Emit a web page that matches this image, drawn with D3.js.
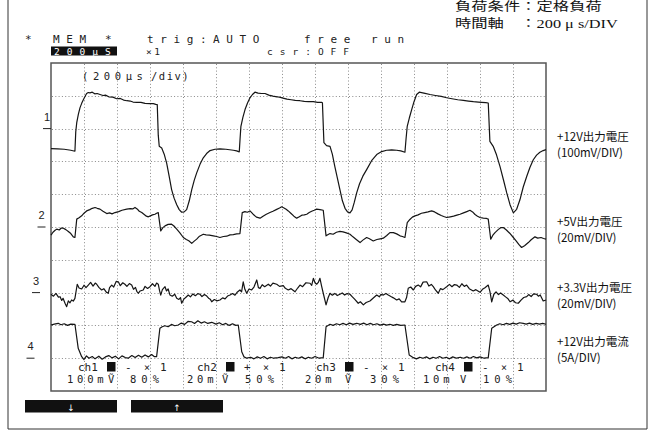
<!DOCTYPE html>
<html>
<head>
<meta charset="utf-8">
<script src="https://cdn.jsdelivr.net/npm/d3@7"></script>
<style>
  body { margin: 0; background: #fff; }
  .lcd { font-family: "DejaVu Sans Mono", monospace; fill: #222; }
  .lab { font-family: "Liberation Sans Narrow", "Noto Sans CJK JP", sans-serif; font-size: 11.5px; fill: #111; }
  .hdr { font-family: "Liberation Serif", "Noto Sans CJK JP", serif; font-size: 12px; fill: #111; }
</style>
</head>
<body>
<script>
// time in microseconds, values in mV (ch4 in A), measured from each channel's ground marker
const ch1 = [
  [0,-61],[40,-62],[80,-63],[120,-66],[145,-69],
  [150,-10],[156,18],[166,44],[176,64],[186,77],[196,88],[206,98],[216,107],[226,110],[236,109],[250,111],[265,106],[280,107],[297,104],[315,101],[330,102],[350,97],[375,96],[398,91],[420,92],[440,87],[460,85],[480,84],[497,81],[520,80],[545,80],[570,77],[600,76],[620,76],[635,74],[644,73],
  [650,-20],[656,-54],[671,-59],[686,-78],[701,-105],[716,-145],[731,-186],[746,-212],[762,-232],[777,-247],[792,-255],[807,-254],[822,-247],[838,-220],[853,-186],[868,-158],[883,-135],[903,-109],[923,-89],[943,-76],[964,-67],[994,-63],[1024,-62],[1060,-63],[1105,-66],[1125,-68],[1141,-71],
  [1146,-30],[1151,7],[1163,34],[1176,58],[1191,78],[1206,94],[1221,104],[1236,111],[1255,108],[1275,107],[1297,107],[1320,102],[1345,99],[1370,97],[1390,95],[1406,93],[1430,90],[1455,88],[1480,86],[1509,85],[1535,83],[1560,82],[1590,82],[1615,80],[1640,80],[1645,79],
  [1654,-43],[1670,-52],[1691,-54],[1705,-78],[1720,-115],[1736,-152],[1751,-186],[1766,-220],[1782,-243],[1797,-254],[1812,-257],[1825,-248],[1838,-225],[1853,-195],[1870,-168],[1890,-145],[1913,-125],[1943,-98],[1974,-79],[2004,-70],[2034,-66],[2065,-65],[2095,-66],[2120,-68],[2145,-72],
  [2152,-30],[2159,7],[2172,33],[2186,58],[2200,82],[2216,104],[2232,111],[2260,108],[2297,104],[2330,101],[2365,98],[2398,94],[2430,91],[2465,88],[2499,86],[2530,84],[2560,82],[2590,81],[2610,80],[2635,79],[2650,78],
  [2660,-39],[2680,-54],[2700,-80],[2721,-115],[2742,-156],[2762,-196],[2782,-232],[2802,-257],[2822,-246],[2842,-217],[2862,-178],[2883,-146],[2903,-118],[2923,-95],[2943,-81],[2963,-72],[2983,-67],[3000,-64]
];

const ch2 = [
  [0,-5.0],[12,-3.2],[25,-2.0],[35,-1.3],[50,-1.8],[62,-0.6],[75,-0.7],[90,-1.6],[105,-2.7],[120,-4.0],[135,-6.0],[145,-6.4],
  [156,4.8],[170,5.6],[186,6.8],[200,8.4],[216,9.8],[235,10.6],[250,11.4],[267,11.9],[280,11.4],[297,10.9],[315,9.6],[338,8.2],[355,8.6],[370,8.0],[388,8.8],[410,9.4],[430,10.2],[459,10.9],[480,11.2],[495,11.0],[509,11.9],[522,11.0],[535,9.6],[550,8.8],[565,7.6],[578,6.6],[590,6.2],[602,6.8],[615,7.4],[630,7.8],[640,8.4],[650,8.8],
  [665,-2.4],[678,-0.4],[691,0.7],[710,1.6],[731,1.7],[745,0.6],[762,-1.3],[780,-3.4],[802,-6.4],[820,-7.6],[835,-8.4],[853,-10.0],[868,-8.6],[883,-7.4],[900,-5.6],[923,-4.4],[940,-4.8],[960,-5.0],[984,-5.4],[1004,-5.8],[1024,-6.4],[1045,-5.8],[1065,-5.6],[1085,-4.8],[1105,-4.6],[1125,-4.2],[1145,-4.0],
  [1159,8.8],[1175,9.4],[1190,9.0],[1206,9.8],[1225,7.8],[1245,6.0],[1267,5.4],[1285,6.6],[1305,7.8],[1327,8.8],[1345,9.6],[1365,10.6],[1385,11.6],[1398,12.3],[1412,11.6],[1425,10.8],[1438,9.8],[1455,8.2],[1472,6.6],[1489,5.4],[1505,6.2],[1520,7.2],[1535,7.4],[1550,7.8],[1565,8.8],[1580,9.6],[1595,10.2],[1610,10.9],[1630,10.6],[1650,10.2],
  [1667,-5.4],[1680,-4.6],[1691,-4.0],[1710,-4.4],[1730,-3.2],[1751,-2.7],[1770,-3.0],[1790,-3.6],[1812,-4.4],[1830,-6.0],[1850,-7.6],[1873,-9.5],[1890,-8.0],[1913,-6.4],[1930,-7.2],[1953,-8.5],[1975,-7.6],[1995,-7.2],[2014,-6.8],[2035,-5.2],[2054,-3.4],[2075,-3.4],[2095,-4.2],[2115,-5.4],[2130,-5.8],[2145,-6.4],
  [2159,2.7],[2175,4.6],[2190,6.0],[2206,6.8],[2225,7.4],[2245,8.4],[2265,8.8],[2285,9.2],[2307,9.8],[2325,9.2],[2345,8.0],[2365,7.0],[2380,6.4],[2398,5.8],[2420,6.2],[2440,6.6],[2460,7.2],[2479,7.8],[2500,8.6],[2520,9.4],[2539,10.2],[2555,9.2],[2570,7.6],[2585,6.6],[2600,5.8],[2620,5.4],[2640,5.2],[2650,4.8],
  [2665,-7.4],[2678,-5.0],[2691,-3.4],[2710,-1.6],[2725,-0.4],[2741,-0.3],[2760,-1.8],[2780,-3.8],[2802,-6.4],[2820,-8.6],[2835,-10.6],[2852,-12.5],[2870,-11.4],[2893,-9.5],[2910,-7.8],[2933,-6.0],[2950,-6.8],[2970,-6.4],[2985,-7.0],[3000,-7.4]
];

const ch3 = [
  [0,-1.0],[15,-2.2],[30,-0.5],[45,-2.8],[55,-2.5],[65,-4.8],[73,-3.5],[85,-6.5],[95,-8.6],[105,-5.0],[115,-6.2],[125,-4.5],[135,-5.2],[145,-3.5],
  [159,5.1],[170,2.8],[186,2.2],[200,4.5],[212,3.0],[226,4.6],[240,6.2],[255,4.0],[268,5.8],[277,5.1],[290,3.2],[307,1.6],[320,2.4],[335,0.3],[347,-0.4],[355,3.0],[368,4.6],[380,3.4],[395,6.8],[408,6.6],[420,4.2],[435,6.0],[448,5.1],[460,3.8],[475,5.5],[489,4.6],[500,2.0],[512,3.2],[520,0.8],[529,-0.4],[540,1.0],[559,1.6],[570,3.8],[585,2.5],[600,3.6],[615,5.4],[630,3.8],[640,5.8],[650,5.1],
  [658,1.2],[665,-1.5],[675,1.8],[691,3.6],[700,1.0],[710,2.2],[721,-1.5],[735,-2.2],[750,-1.0],[762,-3.5],[775,-4.2],[785,-3.0],[792,-6.5],[805,-4.0],[818,-2.8],[832,-1.5],[845,-2.6],[860,-0.8],[875,-1.9],[890,-0.6],[903,-1.0],[915,-2.4],[930,-1.2],[944,-2.1],[955,-3.4],[965,-4.0],[974,-5.6],[990,-4.2],[1005,-5.0],[1024,-4.5],[1040,-3.2],[1055,-3.8],[1070,-2.1],[1085,-1.5],[1100,-0.6],[1115,-1.6],[1130,0.4],[1145,1.6],
  [1155,0.5],[1165,6.6],[1175,2.0],[1186,-0.4],[1200,2.2],[1216,1.6],[1230,3.4],[1247,7.7],[1257,3.0],[1267,2.6],[1280,4.8],[1295,3.6],[1317,5.1],[1330,4.0],[1345,5.8],[1368,5.1],[1385,3.8],[1408,4.2],[1420,2.6],[1438,1.6],[1455,2.4],[1479,0.5],[1495,2.8],[1509,4.6],[1525,3.6],[1545,6.0],[1570,5.7],[1580,4.4],[1590,8.7],[1600,6.0],[1610,5.1],[1620,6.2],[1630,8.7],[1640,4.0],[1650,-0.4],
  [1667,-7.5],[1680,-3.0],[1691,-0.4],[1705,-1.6],[1720,-0.5],[1735,-1.8],[1751,-1.0],[1765,-0.2],[1780,-1.5],[1795,-0.6],[1812,-1.0],[1825,-2.4],[1840,-4.0],[1862,-6.5],[1875,-5.6],[1893,-7.5],[1910,-6.0],[1933,-5.1],[1950,-3.6],[1974,-1.5],[1990,-2.6],[2000,-1.0],[2014,-1.5],[2030,-0.5],[2044,-1.5],[2060,-2.4],[2075,-3.2],[2095,-4.5],[2110,-3.8],[2125,-5.6],[2145,-5.6],
  [2155,-3.0],[2165,2.6],[2180,3.4],[2196,1.6],[2210,3.8],[2226,4.6],[2240,3.5],[2255,6.4],[2277,6.6],[2290,4.0],[2305,5.0],[2317,3.6],[2330,1.6],[2347,-0.4],[2360,2.4],[2375,1.8],[2398,3.6],[2415,5.0],[2430,3.6],[2445,4.9],[2459,4.6],[2475,3.2],[2490,5.4],[2505,3.8],[2519,4.6],[2535,2.4],[2559,1.0],[2575,1.8],[2600,0.2],[2615,2.0],[2630,3.0],[2650,4.6],
  [2660,0.8],[2671,-5.6],[2684,-1.0],[2697,0.5],[2712,-1.2],[2725,-0.2],[2741,-1.5],[2755,-2.6],[2770,-3.8],[2782,-5.6],[2800,-4.6],[2815,-6.2],[2832,-6.5],[2850,-4.4],[2865,-3.0],[2883,-2.5],[2895,-1.2],[2910,-2.4],[2925,-0.8],[2943,-1.0],[2955,-2.2],[2965,-1.4],[2983,-5.1],[3000,-4.5]
];

const ch4 = [
  [0,5.06],[20,5.2],[44,5.32],[60,5.1],[80,5.25],[100,5.0],[120,5.2],[145,5.17],
  [165,1.51],[186,0.23],[200,-0.2],[215,0.35],[230,0.0],[250,0.25],[267,-0.1],[290,0.3],[310,-0.15],[330,0.2],[350,0.4],[370,0.05],[390,0.3],[410,-0.1],[430,0.35],[450,0.1],[468,0.0],[490,0.4],[510,0.1],[530,0.45],[550,0.15],[570,0.5],[590,0.2],[610,0.55],[625,0.25],[640,0.23],
  [660,4.56],[674,4.8],[690,4.95],[710,4.8],[730,5.15],[750,4.95],[771,5.06],[790,5.35],[810,5.15],[830,5.6],[852,5.56],[870,5.3],[890,5.7],[910,5.35],[930,5.55],[950,5.3],[974,5.47],[1000,5.2],[1020,5.4],[1040,5.1],[1060,5.3],[1080,5.0],[1100,5.25],[1120,5.0],[1135,5.06],
  [1156,0.99],[1170,0.2],[1186,0.0],[1210,0.15],[1230,-0.1],[1250,0.2],[1270,0.0],[1290,0.25],[1310,-0.1],[1330,0.15],[1350,0.0],[1377,0.1],[1400,0.2],[1420,0.0],[1440,0.25],[1460,-0.1],[1480,0.15],[1500,0.0],[1520,0.2],[1540,-0.1],[1560,0.15],[1580,0.0],[1600,0.25],[1625,0.0],[1650,0.08],
  [1667,4.8],[1691,5.17],[1710,5.0],[1730,5.25],[1750,5.1],[1770,5.3],[1790,5.1],[1810,5.35],[1830,5.15],[1853,5.32],[1875,5.15],[1895,5.35],[1915,5.1],[1935,5.3],[1955,5.1],[1975,5.25],[1995,5.05],[2015,5.2],[2035,5.05],[2054,5.17],[2075,5.0],[2095,5.15],[2120,5.0],[2145,5.06],
  [2171,0.49],[2196,0.08],[2215,-0.1],[2235,0.15],[2255,0.0],[2275,0.2],[2295,-0.1],[2315,0.15],[2335,0.0],[2355,0.25],[2375,0.0],[2395,0.15],[2415,-0.1],[2435,0.2],[2459,0.0],[2480,0.15],[2500,0.0],[2520,0.2],[2540,0.0],[2560,0.25],[2580,0.05],[2600,0.2],[2625,0.0],[2650,0.08],
  [2671,4.56],[2701,5.06],[2720,5.25],[2740,5.1],[2760,5.3],[2780,5.15],[2800,5.35],[2820,5.2],[2840,5.4],[2862,5.32],[2880,5.2],[2900,5.35],[2920,5.15],[2940,5.3],[2960,5.2],[2980,5.3],[3000,5.17]
];

// channel settings: ground marker division and units per division
const markers = [8, 5, 3, 1];
const perDiv = [100, 20, 20, 5];
const traces = [ch1, ch2, ch3, ch4];

const labelsTop = ["+12V出力電圧", "+5V出力電圧", "+3.3V出力電圧", "+12V出力電流"];
const labelsBottom = ["(100mV/DIV)", "(20mV/DIV)", "(20mV/DIV)", "(5A/DIV)"];
const chVolts = ["100m", "20m", "20m", "10m"];
const chUnit = ["Ṽ", "Ṽ", "Ṽ", "V"];
const chPos = ["80%", "50%", "30%", "10%"];
const chSign = ["-", "+", "-", "-"];

const width = 652, height = 430;
const svg = d3.select("body").append("svg").attr("width", width).attr("height", height);

const xScale = d3.scaleLinear().domain([0, 3000]).range([51, 546]);
const yDiv = d3.scaleLinear().domain([0, 10]).range([391, 63]);

// outer frame
svg.append("path").attr("d", "M8,0V429H647V0").attr("fill", "none").attr("stroke", "#333").attr("stroke-width", 1);

// header
const hdr = svg.append("g").attr("class", "hdr").attr("transform", "translate(455,0) scale(1.36,1)");
hdr.append("text").attr("y", 11.5).text("負荷条件：定格負荷");
hdr.append("text").attr("y", 28).text("時間軸");
hdr.append("text").attr("x", 48).attr("y", 28).text("：200 μ s/DIV");

// scope status lines
const lcd = svg.append("g").attr("class", "lcd").style("font-size", "11px");
[["*", 25], ["MEM", 53], ["*", 105], ["trig:AUTO", 147], ["free", 304], ["run", 371]].forEach(([t, x]) => {
  lcd.append("text").attr("x", x).attr("y", 43).attr("letter-spacing", 6.6).text(t);
});
svg.append("rect").attr("x", 51).attr("y", 46.5).attr("width", 66).attr("height", 9).attr("fill", "#111");
svg.append("text").attr("class", "lcd").attr("x", 54).attr("y", 55).style("font-size", "9.5px")
  .attr("letter-spacing", 7).style("fill", "#fff").text("200μS");
svg.append("text").attr("class", "lcd").attr("x", 146).attr("y", 55).style("font-size", "9.5px")
  .attr("letter-spacing", 2.5).text("×1");
svg.append("text").attr("class", "lcd").attr("x", 267).attr("y", 55).style("font-size", "9.5px")
  .attr("letter-spacing", 7).text("csr:OFF");

// grid
const grid = svg.append("g").attr("stroke", "#8a8a8a").attr("stroke-width", 1).attr("stroke-dasharray", "1,2.3");
grid.selectAll(".vg").data(d3.range(1, 15)).enter().append("line")
  .attr("x1", d => Math.round(xScale(d * 200)) + 0.5).attr("x2", d => Math.round(xScale(d * 200)) + 0.5)
  .attr("y1", 64).attr("y2", 390);
grid.selectAll(".hg").data(d3.range(1, 10)).enter().append("line")
  .attr("y1", d => Math.round(yDiv(d)) + 0.5).attr("y2", d => Math.round(yDiv(d)) + 0.5)
  .attr("x1", 52).attr("x2", 545);

// plot border
svg.append("rect").attr("x", 51).attr("y", 63).attr("width", 495).attr("height", 328)
  .attr("fill", "none").attr("stroke", "#555").attr("stroke-width", 1.5);

// inside time label
svg.append("text").attr("class", "lcd").attr("x", 82).attr("y", 80).style("font-size", "10.5px")
  .attr("letter-spacing", 4.6).text("(200μs");
svg.append("text").attr("class", "lcd").attr("x", 151).attr("y", 80).style("font-size", "10.5px")
  .attr("letter-spacing", 1.5).text("/div)");

// traces
const plot = svg.append("g");
traces.forEach((data, i) => {
  const line = d3.line()
    .x(d => xScale(d[0]))
    .y(d => yDiv(markers[i] + d[1] / perDiv[i]));
  plot.append("path").datum(data).attr("d", line)
    .attr("fill", "none").attr("stroke", "#151515").attr("stroke-width", 1.2).attr("stroke-linejoin", "round");
});

// channel ground markers on the left
const markX = [47, 41.5, 36, 30.5];
markers.forEach((m, i) => {
  const y = yDiv(m);
  svg.append("text").attr("x", markX[i]).attr("y", y - 8).attr("text-anchor", "middle")
    .style("font-family", "Liberation Sans, sans-serif").style("font-size", "11px").style("fill", "#222")
    .text(i + 1);
  svg.append("line").attr("x1", markX[i] - 4).attr("x2", markX[i] + 4).attr("y1", y).attr("y2", y)
    .attr("stroke", "#222").attr("stroke-width", 1);
});

// right-hand labels
markers.forEach((m, i) => {
  const y = [140.5, 225.5, 292.3, 345.5][i];
  svg.append("text").attr("class", "lab").attr("x", 557).attr("y", y).text(labelsTop[i]);
  svg.append("text").attr("class", "lab").attr("x", 557).attr("y", y + 16).text(labelsBottom[i]);
});

// channel settings footer
const row1X = [78, 197, 316, 435];
const row2X = [67, 187, 305, 423];
row1X.forEach((bx, i) => {
  svg.append("text").attr("class", "lcd").attr("x", bx).attr("y", 370.5).style("font-size", "11px").text("ch" + (i + 1));
  svg.append("rect").attr("x", bx + 29).attr("y", 362).attr("width", 8.5).attr("height", 9.5).attr("fill", "#111");
  svg.append("text").attr("class", "lcd").attr("x", bx + 47).attr("y", 370.5).style("font-size", "11px").text(chSign[i]);
  svg.append("text").attr("class", "lcd").attr("x", bx + 66).attr("y", 370.5).style("font-size", "10px").text("×");
  svg.append("text").attr("class", "lcd").attr("x", bx + 82).attr("y", 370.5).style("font-size", "11px").text("1");
});
row2X.forEach((bx, i) => {
  svg.append("text").attr("class", "lcd").attr("x", bx).attr("y", 383).style("font-size", "10.5px")
    .attr("letter-spacing", 3.8).text(chVolts[i]);
  svg.append("text").attr("class", "lcd").attr("x", [108, 222, 345, 460][i]).attr("y", 383).style("font-size", "10.5px")
    .text(chUnit[i]);
  svg.append("text").attr("class", "lcd").attr("x", [130, 245, 370, 483][i]).attr("y", 383).style("font-size", "10.5px")
    .attr("letter-spacing", 5).text(chPos[i]);
});

// soft keys
[[25, "↓"], [131, "↑"]].forEach(([x, t]) => {
  svg.append("rect").attr("x", x).attr("y", 400).attr("width", 92).attr("height", 12.5).attr("fill", "#111");
  svg.append("text").attr("x", x + 46).attr("y", 410.5).attr("text-anchor", "middle")
    .style("font-family", "DejaVu Sans, sans-serif").style("font-size", "9px").style("fill", "#fff").text(t);
});
</script>
</body>
</html>
